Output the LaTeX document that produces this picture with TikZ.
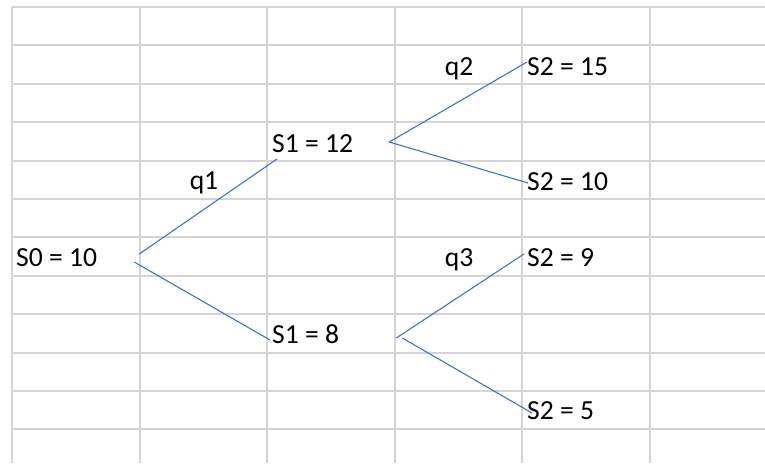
\documentclass[tikz,border=0pt]{standalone}
\usepackage{fontspec}
\setmainfont{Carlito}
\usepackage{tikz}
\usetikzlibrary{positioning}
\definecolor{SheetGrid}{RGB}{212,212,212}
\definecolor{TreeBlue}{RGB}{68,114,196}
\tikzset{
  gridline/.style={draw=SheetGrid,line width=2pt},
  celltext/.style={anchor=base west,inner sep=0pt,
    font=\fontsize{27.6}{33}\selectfont},
  probtext/.style={anchor=base,inner sep=0pt,
    font=\fontsize{27.6}{33}\selectfont},
  branch/.style={draw=TreeBlue,line width=1.1pt}
}

\begin{document}
\begin{tikzpicture}[x=1pt,y=-1pt]
          \useasboundingbox (0,0) rectangle (765,463);
          % spreadsheet grid
          \foreach \gx in {12,139.6,267.2,394.8,522.4,650}
            \draw[gridline] (\gx,7) -- (\gx,463);
          \foreach \r in {0,...,11}
            \draw[gridline] (12,{7+38.4*\r}) -- (765,{7+38.4*\r});
          % prices
          \node[celltext] (s0) at (16,266) {S0 = 10};
          \node[celltext] (s1u) at (272,152) {S1 = 12};
          \node[celltext] (s1d) at (272,343) {S1 = 8};
          \node[celltext] (s2a) at (527,75) {S2 = 15};
          \node[celltext] (s2b) at (527,190) {S2 = 10};
          \node[celltext] (s2c) at (527,266) {S2 = 9};
          \node[celltext] (s2d) at (527,419) {S2 = 5};
          % probabilities
          \node[probtext] (q1) at (204,189) {q1};
          \node[probtext] (q2) at (459,75) {q2};
          \node[probtext] (q3) at (459,266) {q3};
          % branches
          \draw[branch] ([shift={(42,-12)}]s0.base east) -- ([shift={(5,7)}]s1u.base west);
          \draw[branch] ([shift={(37,-4)}]s0.base east) -- ([shift={(-2,-3)}]s1d.base west);
          \draw[branch] ([shift={(36,-10)}]s1u.base east) -- ([shift={(0,-13)}]s2a.base west)
            ([shift={(36,-10)}]s1u.base east) -- ([shift={(1,-7)}]s2b.base west);
          \draw[branch] ([shift={(57,-5)}]s1d.base east) -- ([shift={(-3,-12)}]s2c.base west);
          \draw[branch] ([shift={(63,-5)}]s1d.base east) -- ([shift={(5,-6)}]s2d.base west);
        \end{tikzpicture}
\end{document}
